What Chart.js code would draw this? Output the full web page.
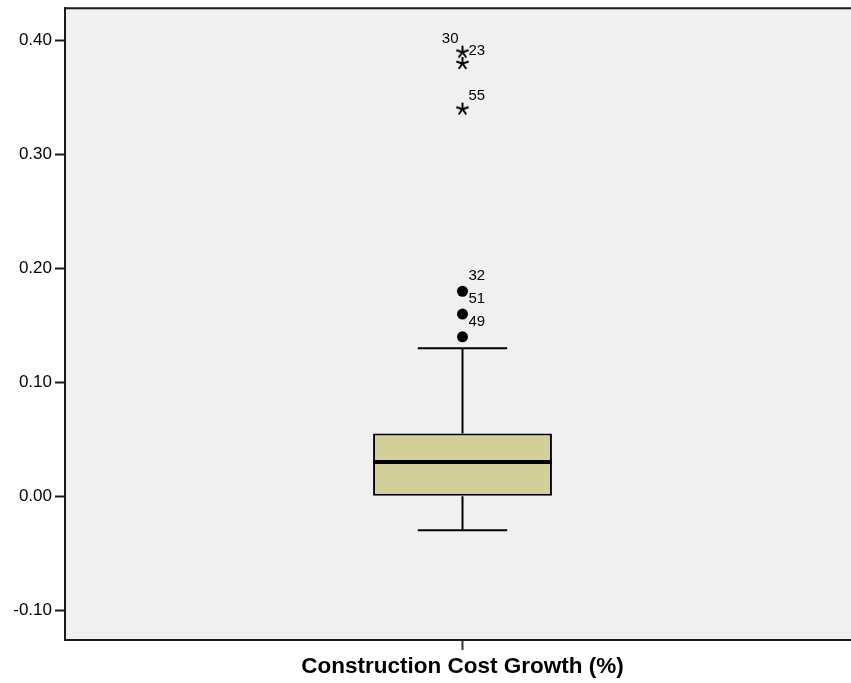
<!DOCTYPE html>
<html>
<head>
<meta charset="utf-8">
<script src="https://cdn.jsdelivr.net/npm/chart.js@4.4.1/dist/chart.umd.min.js"></script>
<style>
  html, body { margin: 0; padding: 0; background: #ffffff; overflow: hidden; }
  #wrap { width: 851px; height: 683px; overflow: hidden; position: relative; }
  #c { position: absolute; left: 0; top: -5px; }
</style>
</head>
<body>
<div id="wrap"><canvas id="c" width="860" height="688"></canvas></div>
<script>
// Boxplot summary for construction cost growth
const categories = ['Construction Cost Growth (%)'];
const boxQ1 = [0.00];
const boxQ3 = [0.055];
const medians = [0.03];
const whiskerLow = [-0.03];
const whiskerHigh = [0.13];

// Outliers (circles) and extreme values (stars) with their case numbers
const outlierValues = [0.18, 0.16, 0.14];
const outlierCases = ['32', '51', '49'];
const extremeValues = [0.39, 0.38, 0.34];
const extremeCases = ['30', '23', '55'];

const yTicks = [-0.10, 0.00, 0.10, 0.20, 0.30, 0.40];

const FONT = 'Liberation Sans, Arial, Helvetica, sans-serif';

// Five-armed asterisk used for extreme values
function makeStar() {
  const s = document.createElement('canvas');
  s.width = 15; s.height = 15;
  const g = s.getContext('2d');
  g.strokeStyle = '#000';
  g.lineWidth = 2;
  g.lineCap = 'butt';
  const cx = 7.5, cy = 7.5, r = 6.5;
  for (let i = 0; i < 5; i++) {
    const a = -Math.PI / 2 + i * 2 * Math.PI / 5;
    g.beginPath();
    g.moveTo(cx, cy);
    g.lineTo(cx + r * Math.cos(a), cy + r * Math.sin(a));
    g.stroke();
  }
  return s;
}
const starImg = makeStar();

// Plot background and frame
const framePlugin = {
  id: 'frame',
  beforeDraw(chart) {
    const { ctx, chartArea: a } = chart;
    ctx.save();
    ctx.fillStyle = '#f0f0f0';
    ctx.fillRect(a.left, a.top, a.right - a.left, a.bottom - a.top);
    ctx.restore();
  },
  afterDraw(chart) {
    const { ctx, chartArea: a } = chart;
    ctx.save();
    ctx.strokeStyle = '#1a1a1a';
    ctx.lineWidth = 2;
    ctx.beginPath();
    ctx.moveTo(a.left, a.top);
    ctx.lineTo(a.right, a.top);
    ctx.moveTo(a.right, a.top);
    ctx.lineTo(a.right, a.bottom);
    ctx.stroke();
    ctx.restore();
  }
};

// Whiskers, caps and median line
const boxPlugin = {
  id: 'boxparts',
  afterDatasetsDraw(chart) {
    const { ctx } = chart;
    const x = chart.scales.x, y = chart.scales.y;
    const barMeta = chart.getDatasetMeta(0);
    ctx.save();
    categories.forEach((c, i) => {
      const bar = barMeta.data[i];
      const cx = x.getPixelForValue(i);
      const half = bar.width / 2;
      ctx.strokeStyle = '#000';
      ctx.lineWidth = 2;
      ctx.beginPath();
      ctx.moveTo(cx, y.getPixelForValue(boxQ3[i]));
      ctx.lineTo(cx, y.getPixelForValue(whiskerHigh[i]));
      ctx.moveTo(cx, y.getPixelForValue(boxQ1[i]));
      ctx.lineTo(cx, y.getPixelForValue(whiskerLow[i]));
      ctx.moveTo(cx - half / 2, y.getPixelForValue(whiskerHigh[i]));
      ctx.lineTo(cx + half / 2, y.getPixelForValue(whiskerHigh[i]));
      ctx.moveTo(cx - half / 2, y.getPixelForValue(whiskerLow[i]));
      ctx.lineTo(cx + half / 2, y.getPixelForValue(whiskerLow[i]));
      ctx.stroke();
      ctx.lineWidth = 4;
      ctx.beginPath();
      ctx.moveTo(cx - half, y.getPixelForValue(medians[i]));
      ctx.lineTo(cx + half, y.getPixelForValue(medians[i]));
      ctx.stroke();
    });
    ctx.restore();
  }
};

// Case-number labels beside outliers and extremes
const caseLabelPlugin = {
  id: 'caselabels',
  afterDatasetsDraw(chart) {
    const { ctx } = chart;
    ctx.save();
    ctx.font = '15px ' + FONT;
    ctx.fillStyle = '#000';
    ctx.textBaseline = 'middle';
    const groups = [
      { ds: 1, cases: outlierCases, dy: -15 },
      { ds: 2, cases: extremeCases, dy: -13 }
    ];
    groups.forEach(gr => {
      const meta = chart.getDatasetMeta(gr.ds);
      meta.data.forEach((pt, k) => {
        const txt = gr.cases[k];
        // the top extreme would collide with its neighbour, so it sits on the left
        if (gr.ds === 2 && k === 0) {
          ctx.textAlign = 'right';
          ctx.fillText(txt, pt.x - 4, pt.y - 13);
        } else {
          ctx.textAlign = 'left';
          ctx.fillText(txt, pt.x + 6, pt.y + gr.dy);
        }
      });
    });
    ctx.restore();
  }
};

const pointData = (vals) => vals.map(v => ({ x: categories[0], y: v }));

new Chart(document.getElementById('c'), {
  data: {
    labels: categories,
    datasets: [
      {
        type: 'bar',
        data: categories.map((c, i) => [boxQ1[i], boxQ3[i]]),
        backgroundColor: '#d3cf98',
        borderColor: '#000',
        borderWidth: 2,
        borderSkipped: false,
        categoryPercentage: 1,
        barPercentage: 0.225
      },
      {
        type: 'line',
        data: pointData(outlierValues),
        showLine: false,
        pointStyle: 'circle',
        pointRadius: 5.5,
        pointBackgroundColor: '#000',
        pointBorderColor: '#000',
        pointBorderWidth: 0
      },
      {
        type: 'line',
        data: pointData(extremeValues),
        showLine: false,
        pointStyle: starImg,
        pointRadius: 7
      }
    ]
  },
  options: {
    responsive: false,
    animation: false,
    events: [],
    layout: { autoPadding: false, padding: { top: 3, right: 0, left: 0, bottom: 0 } },
    plugins: { legend: { display: false }, tooltip: { enabled: false } },
    scales: {
      x: {
        type: 'category',
        offset: true,
        grid: {
          offset: false,
          drawOnChartArea: false,
          drawTicks: true,
          tickLength: 10,
          tickColor: '#333',
          tickWidth: 2
        },
        border: { display: true, color: '#1a1a1a', width: 2 },
        ticks: {
          color: '#000',
          font: { family: FONT, size: 22.5, weight: 'bold' },
          padding: 3,
          maxRotation: 0
        },
        afterFit(scale) { scale.height = 43; }
      },
      y: {
        type: 'linear',
        min: -0.1263,
        max: 0.4286,
        afterBuildTicks(scale) { scale.ticks = yTicks.map(v => ({ value: v })); },
        grid: {
          drawOnChartArea: false,
          drawTicks: true,
          tickLength: 10,
          tickColor: '#1a1a1a',
          tickWidth: 2
        },
        border: { display: true, color: '#1a1a1a', width: 2 },
        ticks: {
          color: '#000',
          font: { family: FONT, size: 17 },
          padding: 3,
          callback: (v) => Number(v).toFixed(2)
        },
        afterFit(scale) { scale.width = 65; }
      }
    }
  },
  plugins: [framePlugin, boxPlugin, caseLabelPlugin]
});
</script>
</body>
</html>
